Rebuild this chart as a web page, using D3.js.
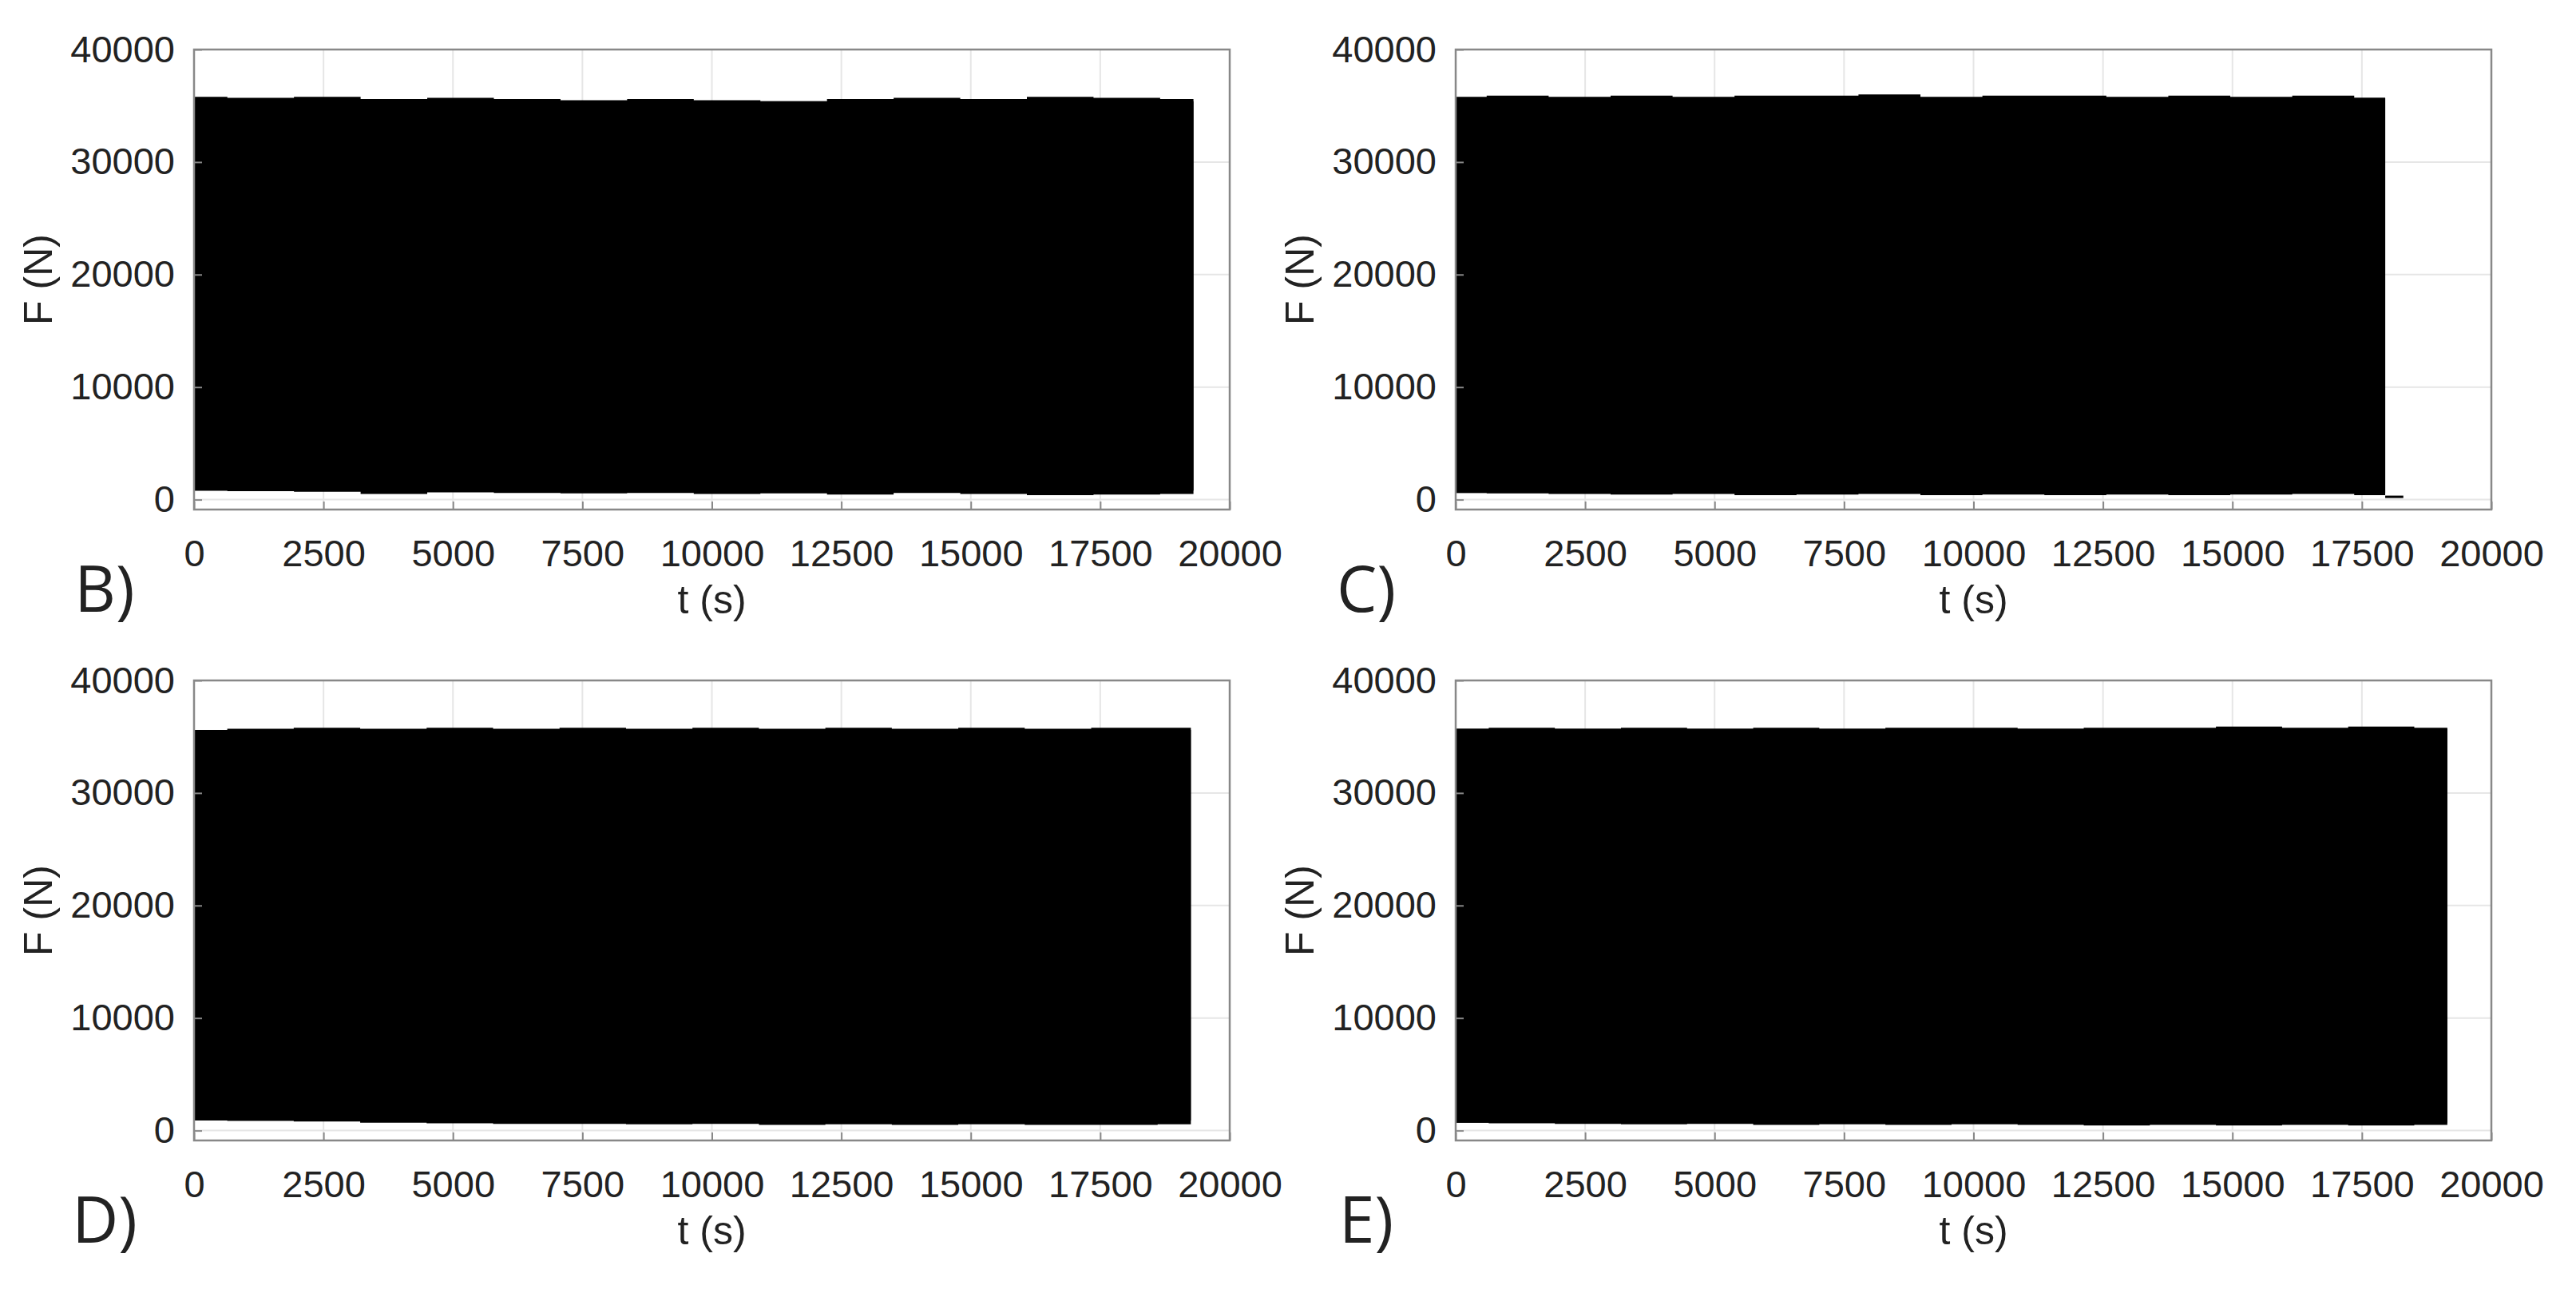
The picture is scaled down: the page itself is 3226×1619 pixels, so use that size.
<!DOCTYPE html>
<html>
<head>
<meta charset="utf-8" />
<script src="https://cdn.jsdelivr.net/npm/d3@7"></script>
<style>
body { margin:0; background:#fff; }
text { font-family: "Liberation Sans", Arial, sans-serif; fill:#222; }
</style>
</head>
<body>
<svg id="chart" width="3226" height="1619"></svg>
<script>
// panel labels and end times of the signals (s)
var panels = ["B)", "C)", "D)", "E)"];
var endTimes = [19300, 17950, 19250, 19150];
var xTicks = [0, 2500, 5000, 7500, 10000, 12500, 15000, 17500, 20000];
var yTicks = [0, 10000, 20000, 30000, 40000];

// envelope of the force signal, read at evenly spaced points across each signal
var upperB = [35800, 35700, 35800, 35600, 35700, 35600, 35500, 35600, 35500, 35400, 35600, 35700, 35600, 35800, 35700, 35600];
var lowerB = [800, 750, 700, 500, 650, 600, 550, 600, 500, 550, 450, 600, 500, 400, 450, 500];
var upperC = [35800, 35900, 35800, 35900, 35800, 35900, 35900, 36000, 35800, 35900, 35900, 35800, 35900, 35800, 35900, 35700];
var lowerC = [600, 550, 500, 450, 500, 400, 450, 500, 400, 450, 400, 450, 400, 450, 500, 400];
var upperD = [35600, 35700, 35800, 35700, 35800, 35700, 35800, 35700, 35800, 35700, 35800, 35700, 35800, 35700, 35800, 35800];
var lowerD = [900, 850, 800, 700, 650, 600, 600, 550, 600, 500, 550, 500, 550, 500, 500, 550];
var upperE = [35700, 35800, 35700, 35800, 35700, 35800, 35700, 35800, 35800, 35700, 35800, 35800, 35900, 35800, 35900, 35800];
var lowerE = [700, 650, 600, 550, 600, 500, 550, 500, 550, 500, 450, 500, 450, 500, 450, 500];
// residual flat trace after failure in C
var tailC = [[17950, 250], [18300, 250]];

var uppers = [upperB, upperC, upperD, upperE];
var lowers = [lowerB, lowerC, lowerD, lowerE];

var svg = d3.select("#chart");
var boxes = [
  {x: 243, y: 62}, {x: 1823, y: 62},
  {x: 243, y: 852}, {x: 1823, y: 852}
];
var W = 1297, H = 576;

boxes.forEach(function(b, i) {
  var g = svg.append("g").attr("transform", "translate(" + b.x + "," + b.y + ")");
  var x = d3.scaleLinear().domain([0, 20000]).range([0, W]);
  var y = d3.scaleLinear().domain([-880, 40000]).range([H, 0]);

  // grid
  g.selectAll(".gx").data(xTicks).enter().append("line")
    .attr("x1", x).attr("x2", x).attr("y1", 0).attr("y2", H)
    .attr("stroke", "#e6e6e6").attr("stroke-width", 2);
  g.selectAll(".gy").data(yTicks).enter().append("line")
    .attr("y1", y).attr("y2", y).attr("x1", 0).attr("x2", W)
    .attr("stroke", "#e6e6e6").attr("stroke-width", 2);

  // signal envelope
  var up = uppers[i], lo = lowers[i], end = endTimes[i];
  var pts = [];
  var n = up.length;
  for (var k = 0; k < n; k++) pts.push({t: end * k / (n - 1), hi: up[k], lo: lo[k]});
  var area = d3.area().x(function(d) { return x(d.t); })
    .y0(function(d) { return y(d.lo); }).y1(function(d) { return y(d.hi); })
    .curve(d3.curveStep);
  g.append("path").datum(pts).attr("d", area).attr("fill", "#000");
  g.append("rect").attr("x", x(0)).attr("width", x(end) - x(0))
    .attr("y", y(d3.min(up))).attr("height", y(d3.max(lo)) - y(d3.min(up)))
    .attr("fill", "#000");
  if (i === 1) {
    g.append("path").datum(tailC)
      .attr("d", d3.line().x(function(d) { return x(d[0]); }).y(function(d) { return y(d[1]); }))
      .attr("stroke", "#000").attr("stroke-width", 3).attr("fill", "none");
  }

  // box
  g.append("rect").attr("width", W).attr("height", H)
    .attr("fill", "none").attr("stroke", "#888").attr("stroke-width", 2.5);

  // axes with inward ticks
  var xa = g.append("g").attr("transform", "translate(0," + H + ")")
    .call(d3.axisBottom(x).tickValues(xTicks).tickSize(-10).tickPadding(38).tickFormat(d3.format("d")));
  var ya = g.append("g")
    .call(d3.axisLeft(y).tickValues(yTicks).tickSize(-10).tickPadding(24).tickFormat(d3.format("d")));
  [xa, ya].forEach(function(a) {
    a.select(".domain").remove();
    a.selectAll("line").attr("stroke", "#888").attr("stroke-width", 2);
    a.selectAll("text").style("font-size", "47px").attr("fill", "#222");
  });

  g.append("text").attr("x", W / 2).attr("y", H + 130).attr("text-anchor", "middle")
    .style("font-size", "50px").text("t (s)");
  g.append("text").attr("transform", "translate(-178," + (H / 2) + ") rotate(-90)")
    .attr("text-anchor", "middle").style("font-size", "50px").text("F (N)");
  g.append("text").attr("x", -112).attr("y", H + 128).attr("text-anchor", "middle")
    .style("font-family", "'Open Sans', sans-serif").style("font-size", "80px").text(panels[i]);
});
</script>
</body>
</html>
